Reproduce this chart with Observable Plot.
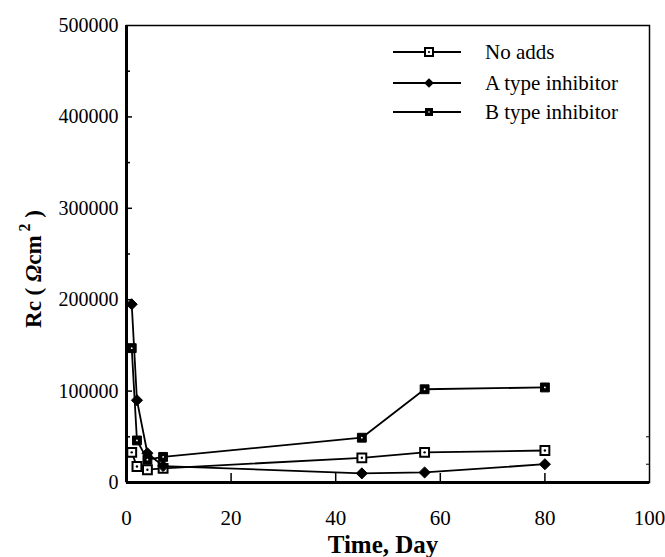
<!DOCTYPE html>
<html>
<head>
<meta charset="utf-8">
<script src="https://cdn.jsdelivr.net/npm/d3@7"></script>
<script src="https://cdn.jsdelivr.net/npm/@observablehq/plot@0.6"></script>
<style>
  html, body { margin: 0; padding: 0; background: #fff; }
  #chart { width: 665px; height: 557px; }
</style>
</head>
<body>
<div id="chart"></div>
<script>
const days = [1, 2, 4, 7, 45, 57, 80];
const noAdds = [33000, 17500, 14000, 15500, 27000, 33000, 35000];
const typeA = [195000, 90000, 32000, 18000, 10000, 11000, 20000];
const typeB = [147000, 46000, 25000, 28000, 49000, 102000, 104000];
const seriesNames = ["No adds", "A type inhibitor", "B type inhibitor"];
const xTicks = [0, 20, 40, 60, 80, 100];
const xInnerTicks = [20, 40, 60, 80];
const yTicks = [0, 100000, 200000, 300000, 400000, 500000];
const yInnerTicks = [100000, 200000, 300000, 400000];
const yMinor = [50000, 150000, 250000, 350000, 450000];
const yRightMinor = [20000, 50000];

const rows = (vals, name) => days.map((d, i) => ({day: d, rc: vals[i], series: name}));
const dNo = rows(noAdds, seriesNames[0]);
const dA = rows(typeA, seriesNames[1]);
const dB = rows(typeB, seriesNames[2]);

const serif = "'Liberation Serif', 'DejaVu Serif', serif";
const W = 665, H = 557, ML = 126, MR = 16, MT = 25, MB = 75;
const FW = W - ML - MR, FH = H - MT - MB;

const chart = Plot.plot({
  width: W,
  height: H,
  marginLeft: ML,
  marginRight: MR,
  marginTop: MT,
  marginBottom: MB,
  style: {fontFamily: serif, background: "#fff", color: "#000"},
  x: {domain: [0, 100]},
  y: {domain: [0, 500000]},
  marks: [
    Plot.frame({stroke: "#000", strokeWidth: 1.5}),
    Plot.ruleX([0], {stroke: "#000", strokeWidth: 3}),
    Plot.ruleY([0], {stroke: "#000", strokeWidth: 3}),
    Plot.axisX({ticks: xTicks, tickSize: 0, tickPadding: 28, tickFormat: d => String(d), fontSize: 21, label: null}),
    Plot.axisY({ticks: yTicks, tickSize: 0, tickPadding: 8, tickFormat: d => String(d), fontSize: 20, label: null}),
    Plot.tickX(xInnerTicks, {x: d => d, stroke: "#000", strokeWidth: 1.5, insetTop: FH - 9}),
    Plot.tickY(yInnerTicks, {y: d => d, stroke: "#000", strokeWidth: 1.5, insetRight: FW - 6}),
    Plot.tickY(yMinor, {y: d => d, stroke: "#000", strokeWidth: 1.5, insetRight: FW - 4}),
    Plot.tickY(yRightMinor, {y: d => d, stroke: "#000", strokeWidth: 1, insetLeft: FW - 3}),
    Plot.line(dNo, {x: "day", y: "rc", stroke: "#000", strokeWidth: 1.8}),
    Plot.line(dA, {x: "day", y: "rc", stroke: "#000", strokeWidth: 1.8}),
    Plot.line(dB, {x: "day", y: "rc", stroke: "#000", strokeWidth: 1.8}),
    Plot.dot(dNo, {x: "day", y: "rc", symbol: "square", r: 5, fill: "#fff", stroke: "#000", strokeWidth: 2}),
    Plot.dot(dNo, {x: "day", y: "rc", r: 1.2, fill: "#000"}),
    Plot.dot(dA, {x: "day", y: "rc", symbol: "diamond2", r: 5, fill: "#000", stroke: "#000", strokeWidth: 1}),
    Plot.dot(dB, {x: "day", y: "rc", symbol: "square", r: 5, fill: "#000", stroke: "#000", strokeWidth: 1}),
    Plot.dot(dB, {x: "day", y: "rc", r: 0.9, fill: "#fff"})
  ]
});

document.getElementById("chart").appendChild(chart);

const svg = d3.select(chart);

// Axis titles
svg.append("text")
  .attr("x", 383).attr("y", 553)
  .attr("text-anchor", "middle")
  .style("font-family", serif).style("font-weight", "bold").style("font-size", "25px")
  .text("Time, Day");

const yl = svg.append("text")
  .attr("transform", "translate(41,269) rotate(-90)")
  .attr("text-anchor", "middle")
  .style("font-family", serif).style("font-weight", "bold").style("font-size", "23px");
yl.append("tspan").text("Rc ( ");
yl.append("tspan").style("font-style", "italic").text("Ω");
yl.append("tspan").text("cm");
yl.append("tspan").attr("dy", -11).style("font-size", "16px").text(" 2");
yl.append("tspan").attr("dy", 11).text(" )");

// Legend
const legend = svg.append("g").attr("class", "legend");
const legendY = [52, 83, 112];
seriesNames.forEach((name, i) => {
  const g = legend.append("g").attr("transform", `translate(0,${legendY[i]})`);
  g.append("line").attr("x1", 393).attr("x2", 461).attr("stroke", "#000").attr("stroke-width", 1.8);
  if (i === 0) {
    g.append("path").attr("d", d3.symbol(d3.symbolSquare, 64)()).attr("transform", "translate(429,0)").attr("fill", "#fff").attr("stroke", "#000").attr("stroke-width", 2);
    g.append("circle").attr("cx", 429).attr("r", 1.1).attr("fill", "#000");
  } else if (i === 1) {
    g.append("path").attr("d", d3.symbol(d3.symbolDiamond2, 60)()).attr("transform", "translate(429,0)").attr("fill", "#000");
  } else {
    g.append("path").attr("d", d3.symbol(d3.symbolSquare, 64)()).attr("transform", "translate(429,0)").attr("fill", "#000");
    g.append("circle").attr("cx", 429).attr("r", 0.8).attr("fill", "#fff");
  }
  g.append("text").attr("x", 485).attr("y", 7)
    .attr("text-anchor", "start")
    .style("font-family", serif).style("font-size", "21px").attr("fill", "#000")
    .text(name);
});
</script>
</body>
</html>
